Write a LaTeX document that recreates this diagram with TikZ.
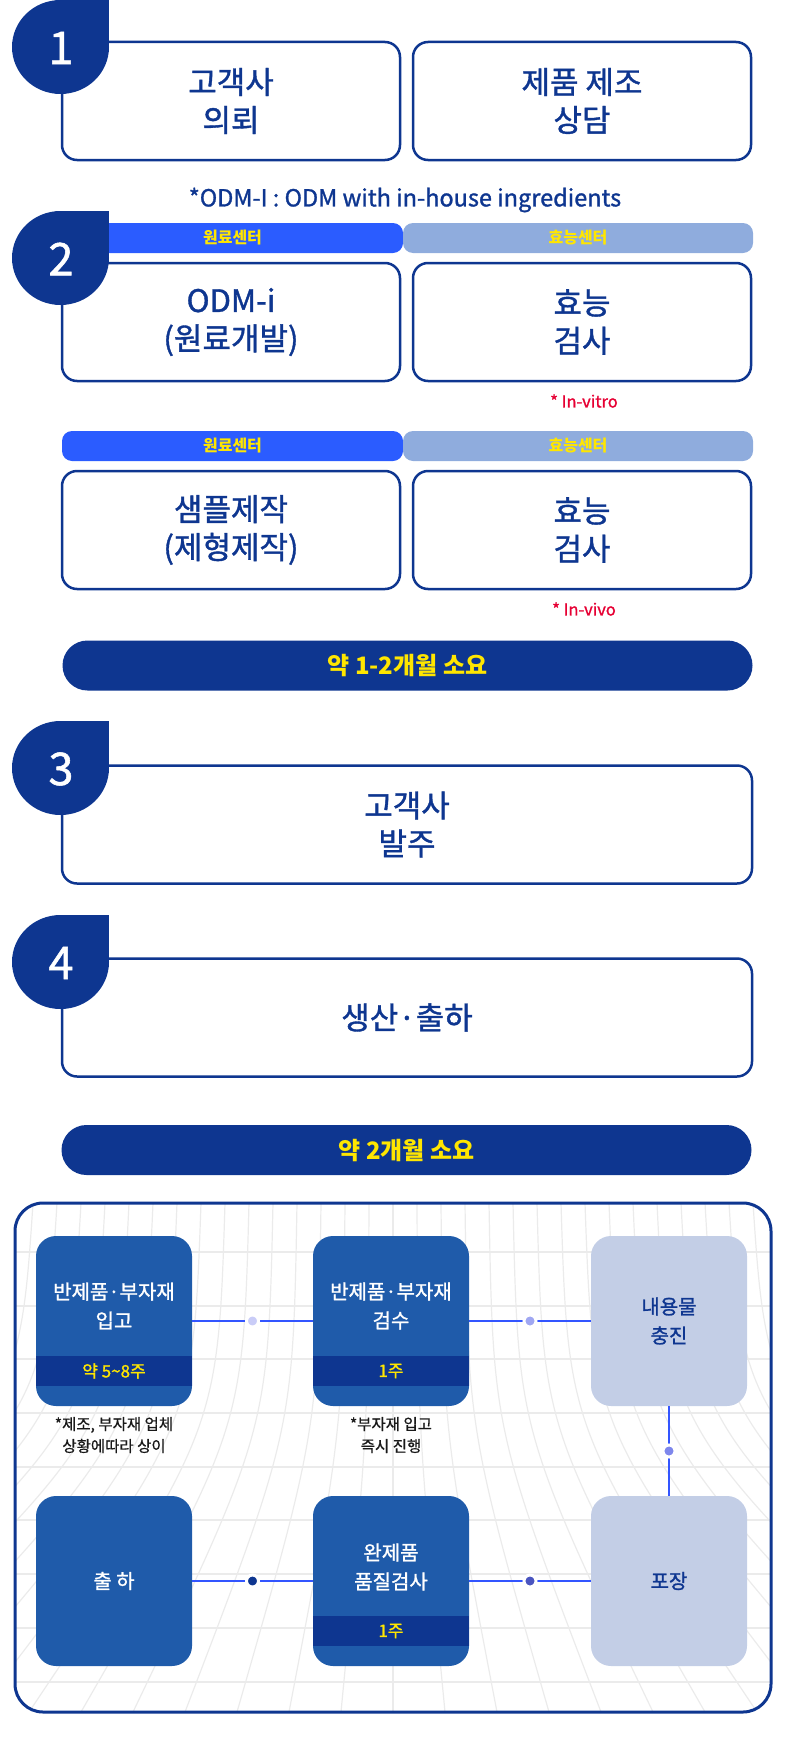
\documentclass[tikz,border=0pt]{standalone}
\usepackage{fontspec}
\setmainfont{Noto Sans CJK KR}
\newfontfamily\medfont{Noto Sans CJK KR}[FakeBold=1.2]
\newfontfamily\notefont{Noto Sans CJK KR}[FakeBold=0.6]
\usetikzlibrary{positioning}

\definecolor{navy}{HTML}{0E3690}
\definecolor{brightbar}{HTML}{2B5CFF}
\definecolor{softbar}{HTML}{8FACDD}
\definecolor{yellowtxt}{HTML}{FFE600}
\definecolor{redtxt}{HTML}{E60033}
\definecolor{midblue}{HTML}{1F5BAA}
\definecolor{lightbox}{HTML}{C3CEE6}
\definecolor{linkblue}{HTML}{3355FF}
\definecolor{gridgray}{HTML}{EBEBEB}
\definecolor{dotA}{HTML}{C9CCF7}
\definecolor{dotB}{HTML}{A0A7F2}
\definecolor{dotC}{HTML}{7E87EC}
\definecolor{dotE}{HTML}{4A55C0}

\begin{document}
\begin{tikzpicture}[x=1pt, y=-1pt,
  every node/.style={outer sep=0pt},
  stepbox/.style={draw=navy, line width=2.5pt, rounded corners=15pt, fill=white,
    minimum height=118pt, text=navy, align=center, inner sep=0pt,
    font=\medfont\fontsize{31}{38}\selectfont},
  halfbox/.style={stepbox, minimum width=338pt},
  fullbox/.style={stepbox, minimum width=690pt},
  num/.style={text=white, inner sep=0pt, font=\medfont\fontsize{45}{45}\selectfont},
  centerbar/.style={rounded corners=10pt, minimum height=30pt, inner sep=0pt,
    text=yellowtxt, font=\bfseries\fontsize{16}{16}\selectfont},
  srcbar/.style={centerbar, fill=brightbar, minimum width=341pt},
  effbar/.style={centerbar, fill=softbar, minimum width=350pt},
  pill/.style={fill=navy, rounded corners=25pt, minimum width=690pt, minimum height=50pt,
    inner sep=0pt, text=yellowtxt, font=\bfseries\fontsize{24}{24}\selectfont},
  remark/.style={text=redtxt, inner sep=0pt, font=\medfont\fontsize{16.5}{16.5}\selectfont},
  stage/.style={fill=midblue, rounded corners=20pt, minimum width=156pt, minimum height=170pt,
    inner sep=0pt, text=white, align=center, font=\medfont\fontsize{20}{29}\selectfont},
  softstage/.style={stage, fill=lightbox, text=navy},
  stagetext/.style={text=white, align=center, inner sep=0pt, font=\medfont\fontsize{20}{29}\selectfont},
  band/.style={fill=navy, minimum width=156pt, minimum height=30pt, inner sep=0pt,
    text=yellowtxt, font=\medfont\fontsize{17}{17}\selectfont},
  memo/.style={text=black!90, align=center, inner sep=0pt, font=\notefont\fontsize{15.5}{22}\selectfont},
  link/.style={draw=linkblue, line width=2.5pt},
  dot/.style={circle, draw=white, line width=3pt, minimum size=12pt, inner sep=0pt},
  gridline/.style={draw=gridgray, line width=1.2pt}
]

\useasboundingbox (0,0) rectangle (802,1742);

\node[halfbox] (ask) at (231,101) {고객사\\의뢰};
\node[halfbox, right=13pt of ask] (talk) {제품 제조\\상담};

\node[text=navy, inner sep=0pt, font=\medfont\fontsize{23.5}{23.5}\selectfont] (odmnote) at (405,200) {*ODM-I : ODM with in-house ingredients};

\node[srcbar, anchor=south west] (src1) at (62,253) {원료센터};
\node[effbar, right=0pt of src1] (eff1) {효능센터};
\node[halfbox] (odm) at (231,322) {ODM-i\\(원료개발)};
\node[halfbox, right=13pt of odm] (vitro) {효능\\검사};
\node[remark] (vitronote) at (584,401) {* In-vitro};

\node[srcbar, anchor=south west] (src2) at (62,461) {원료센터};
\node[effbar, right=0pt of src2] (eff2) {효능센터};
\node[halfbox, below=90pt of odm] (sample) {샘플제작\\(제형제작)};
\node[halfbox, right=13pt of sample] (vivo) {효능\\검사};
\node[remark] (vivonote) at (584,609) {* In-vivo};

\node[pill] (span1) at (407.5,665.5) {약 1-2개월 소요};

\node[fullbox] (order) at (407,824.5) {고객사\\발주};
\node[fullbox, below=75pt of order] (make) {생산·출하};

\node[pill] (span2) at (406.5,1150) {약 2개월 소요};

\begin{scope}
  \clip[rounded corners=28pt] (15,1203) rectangle (771,1712);
  \foreach \yy in {1252,1306,1359,1413,1467,1520,1574,1628,1682}
    \draw[gridline] (15,\yy) -- (771,\yy);
  \foreach \k in {-16,...,16}
    \draw[gridline] ({393+\k*24},1203) .. controls ({393+\k*25},1430) .. ({393+\k*52},1712);
\end{scope}
\draw[navy, line width=3pt, rounded corners=28pt] (15,1203) rectangle (771,1712);

\node[stage] (receive) at (114,1321) {};
\node[stage, right=121pt of receive] (inspect) {};
\node[softstage, right=122pt of inspect] (fill) {내용물\\충진};
\node[stage, below=90pt of receive] (ship) {출 하};
\node[stage, below=90pt of inspect] (qc) {};
\node[softstage, below=90pt of fill] (pack) {포장};

\node[band] (wk1) at ([yshift=-50pt]receive.center) {약 5\textasciitilde8주};
\node[band] (wk2) at ([yshift=-50pt]inspect.center) {1주};
\node[band] (wk3) at ([yshift=-50pt]qc.center) {1주};
\node[stagetext] (receivetext) at ([yshift=15pt]receive.center) {반제품·부자재\\입고};
\node[stagetext] (inspecttext) at ([yshift=15pt]inspect.center) {반제품·부자재\\검수};
\node[stagetext] (qctext) at ([yshift=14pt]qc.center) {완제품\\품질검사};

\node[memo, below=11pt of receive] (receivememo) {*제조, 부자재 업체\\상황에따라 상이};
\node[memo, below=11pt of inspect] (inspectmemo) {*부자재 입고\\즉시 진행};

\draw[link] (receive) -- node[dot, fill=dotA] (d1) {} (inspect);
\draw[link] (inspect) -- node[dot, fill=dotB] (d2) {} (fill);
\draw[link] (fill) -- node[dot, fill=dotC] (d3) {} (pack);
\draw[link] (ship) -- node[dot, fill=navy] (d4) {} (qc);
\draw[link] (qc) -- node[dot, fill=dotE] (d5) {} (pack);

\foreach \yy/\n in {0/1,211/2,721/3,915/4}{
  \fill[navy] (60.5,\yy+47) ellipse [x radius=48.5, y radius=47];
  \fill[navy] (60.5,\yy) rectangle (109,\yy+47);
  \node[num] (n\n) at (61,\yy+48) {\n};
}

\end{tikzpicture}
\end{document}
